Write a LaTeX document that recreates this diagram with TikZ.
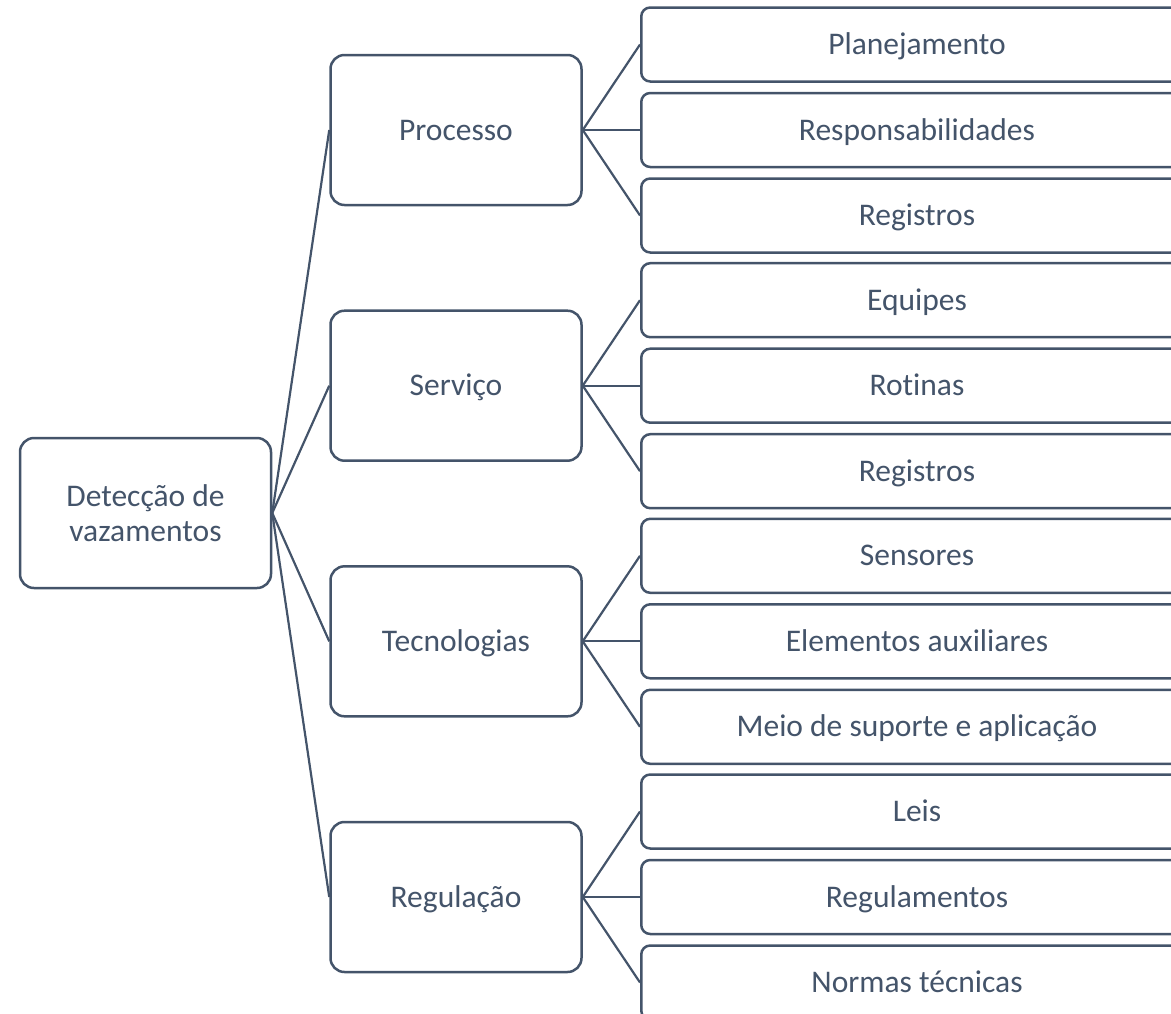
\documentclass[tikz,border=0pt]{standalone}
\usepackage{fontspec}
\setmainfont[RawFeature={-liga;-clig;-calt;-dlig;-rlig}]{Carlito}
\definecolor{slate}{HTML}{44546A}
\begin{document}
\begin{tikzpicture}[x=1pt,y=-1pt,
  every node/.style={font=\fontsize{31.5}{35}\selectfont, text=slate},
  mainbox/.style={draw=slate, line width=2.5pt, fill=white, rounded corners=14pt,
    minimum width=251pt, minimum height=150pt, inner sep=0pt, align=center},
  oneline/.style={text height=20pt, text depth=0pt},
  leafbox/.style={draw=slate, line width=2.5pt, fill=white, rounded corners=9pt,
    minimum width=600pt, minimum height=74pt, inner sep=0pt, anchor=west},
  leaftext/.style={inner sep=0pt, oneline},
  conn/.style={draw=slate, line width=2.2pt}]
\clip (0,0) rectangle (1171,1013);
\useasboundingbox (0,0) rectangle (1171,1013);

\node[mainbox, minimum width=251pt] (root) at (145.5,513) {Detecção de\\vazamentos};

\node[mainbox, oneline] (p) at (456,130) {Processo};
\node[mainbox, oneline] (s) at (456,385.7) {Serviço};
\node[mainbox, oneline] (t) at (456,641.3) {Tecnologias};
\node[mainbox, oneline] (r) at (456,897) {Regulação};

\foreach \n in {p,s,t,r} \draw[conn] (root.east) -- (\n.west);

% leaves
\foreach \pn/\y/\a/\b/\c in {p/130/Planejamento/Responsabilidades/Registros,
  s/385.7/Equipes/Rotinas/Registros,
  t/641.3/Sensores/Elementos auxiliares/Meio de suporte e aplicação,
  r/897/Leis/Regulamentos/Normas técnicas}{
  \node[leafbox] (\pn1) at (640,\y-85.5) {};
  \node[leafbox] (\pn2) at (640,\y) {};
  \node[leafbox] (\pn3) at (640,\y+85.5) {};
  \node[leaftext] (\pn1t) at (917,\y-85.5) {\a};
  \node[leaftext] (\pn2t) at (917,\y) {\b};
  \node[leaftext] (\pn3t) at (917,\y+85.5) {\c};
  \draw[conn] (\pn.east) -- (\pn1.west);
  \draw[conn] (\pn.east) -- (\pn2.west);
  \draw[conn] (\pn.east) -- (\pn3.west);
}
\end{tikzpicture}
\end{document}
